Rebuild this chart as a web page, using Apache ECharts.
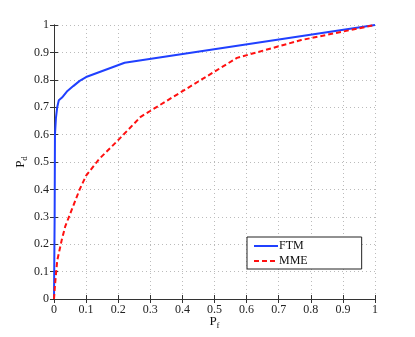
<!DOCTYPE html>
<html>
<head>
<meta charset="utf-8">
<script src="https://cdn.jsdelivr.net/npm/echarts@6/dist/echarts.min.js"></script>
<style>html,body{margin:0;padding:0;background:#fff}#c{width:415px;height:337px}</style>
</head>
<body>
<div id="c"></div>
<script>
var seriesNames = ['FTM', 'MME'];
var ftmPf = [0, 0.002, 0.003, 0.006, 0.010, 0.015, 0.025, 0.040, 0.060, 0.080, 0.100, 0.220, 1.000];
var ftmPd = [0, 0.300, 0.600, 0.660, 0.700, 0.725, 0.735, 0.757, 0.777, 0.796, 0.810, 0.862, 1.000];
var mmePf = [0, 0.003, 0.010, 0.024, 0.035, 0.050, 0.080, 0.100, 0.140, 0.200, 0.270, 0.570, 0.770, 1.000];
var mmePd = [0, 0.050, 0.140, 0.215, 0.265, 0.310, 0.400, 0.450, 0.510, 0.580, 0.665, 0.880, 0.945, 1.000];
var xTicks = [0, 0.1, 0.2, 0.3, 0.4, 0.5, 0.6, 0.7, 0.8, 0.9, 1];
var yTicks = [0, 0.1, 0.2, 0.3, 0.4, 0.5, 0.6, 0.7, 0.8, 0.9, 1];

function pairs(xs, ys) { return xs.map(function (x, i) { return [x, ys[i]]; }); }
var font = '"Liberation Serif", "Times New Roman", serif';
var axisCommon = {
  type: 'value', min: 0, max: 1, interval: 0.1,
  axisLine: { show: true, lineStyle: { color: '#333', width: 1 } },
  axisTick: { show: true, inside: true, length: 4, lineStyle: { color: '#333' } }
};
var nameRich = { p: { fontFamily: font, fontSize: 13, color: '#111' }, s: { fontFamily: font, fontSize: 9, color: '#111', verticalAlign: 'bottom', padding: [7, 0, 0, 0] } };
var chart = echarts.init(document.getElementById('c'));
chart.setOption({
  animation: false,
  textStyle: { fontFamily: font },
  grid: { left: 54, right: 40, top: 25, bottom: 38 },
  legend: {
    data: seriesNames, orient: 'vertical', left: 247, top: 237,
    itemWidth: 24, itemHeight: 10, itemGap: 3,
    padding: [3, 54, 2, 6],
    backgroundColor: '#fff',
    borderColor: '#222', borderWidth: 1, borderRadius: 0,
    itemStyle: { opacity: 0 },
    textStyle: { fontFamily: font, fontSize: 12, color: '#111', padding: [0, 0, 0, -4] }
  },
  xAxis: [
    Object.assign({}, axisCommon, {
      position: 'bottom',
      name: '{p|P}{s|f}', nameLocation: 'middle', nameGap: 15, nameMoveOverlap: false,
      nameTextStyle: { rich: nameRich },
      axisLabel: { fontFamily: font, fontSize: 12, color: '#222', margin: 5,
        formatter: function (v) { var i = xTicks.indexOf(Math.round(v * 10) / 10); return i >= 0 ? String(xTicks[i]) : ''; } },
      splitLine: { show: true, lineStyle: { type: [1, 3], color: '#bbb', width: 1 } }
    }),
    Object.assign({}, axisCommon, {
      position: 'top', axisLabel: { show: false }, splitLine: { show: false }
    })
  ],
  yAxis: [
    Object.assign({}, axisCommon, {
      position: 'left',
      name: '{p|P}{s|d}', nameLocation: 'middle', nameGap: 25, nameRotate: 90, nameMoveOverlap: false,
      nameTextStyle: { rich: nameRich },
      axisLabel: { fontFamily: font, fontSize: 12, color: '#222', margin: 5,
        formatter: function (v) { var i = yTicks.indexOf(Math.round(v * 10) / 10); return i >= 0 ? String(yTicks[i]) : ''; } },
      splitLine: { show: true, lineStyle: { type: [1, 3], color: '#bbb', width: 1 } }
    }),
    Object.assign({}, axisCommon, {
      position: 'right', axisLabel: { show: false }, splitLine: { show: false }
    })
  ],
  series: [
    { name: seriesNames[0], type: 'line', xAxisIndex: 0, yAxisIndex: 0, symbol: 'none',
      data: pairs(ftmPf, ftmPd), color: '#2040ff',
      lineStyle: { color: '#2040ff', width: 2 } },
    { name: seriesNames[1], type: 'line', xAxisIndex: 0, yAxisIndex: 0, symbol: 'none',
      data: pairs(mmePf, mmePd), color: '#ff1010',
      lineStyle: { color: '#ff1010', width: 2, type: [5, 3] } }
  ]
});
</script>
</body>
</html>
